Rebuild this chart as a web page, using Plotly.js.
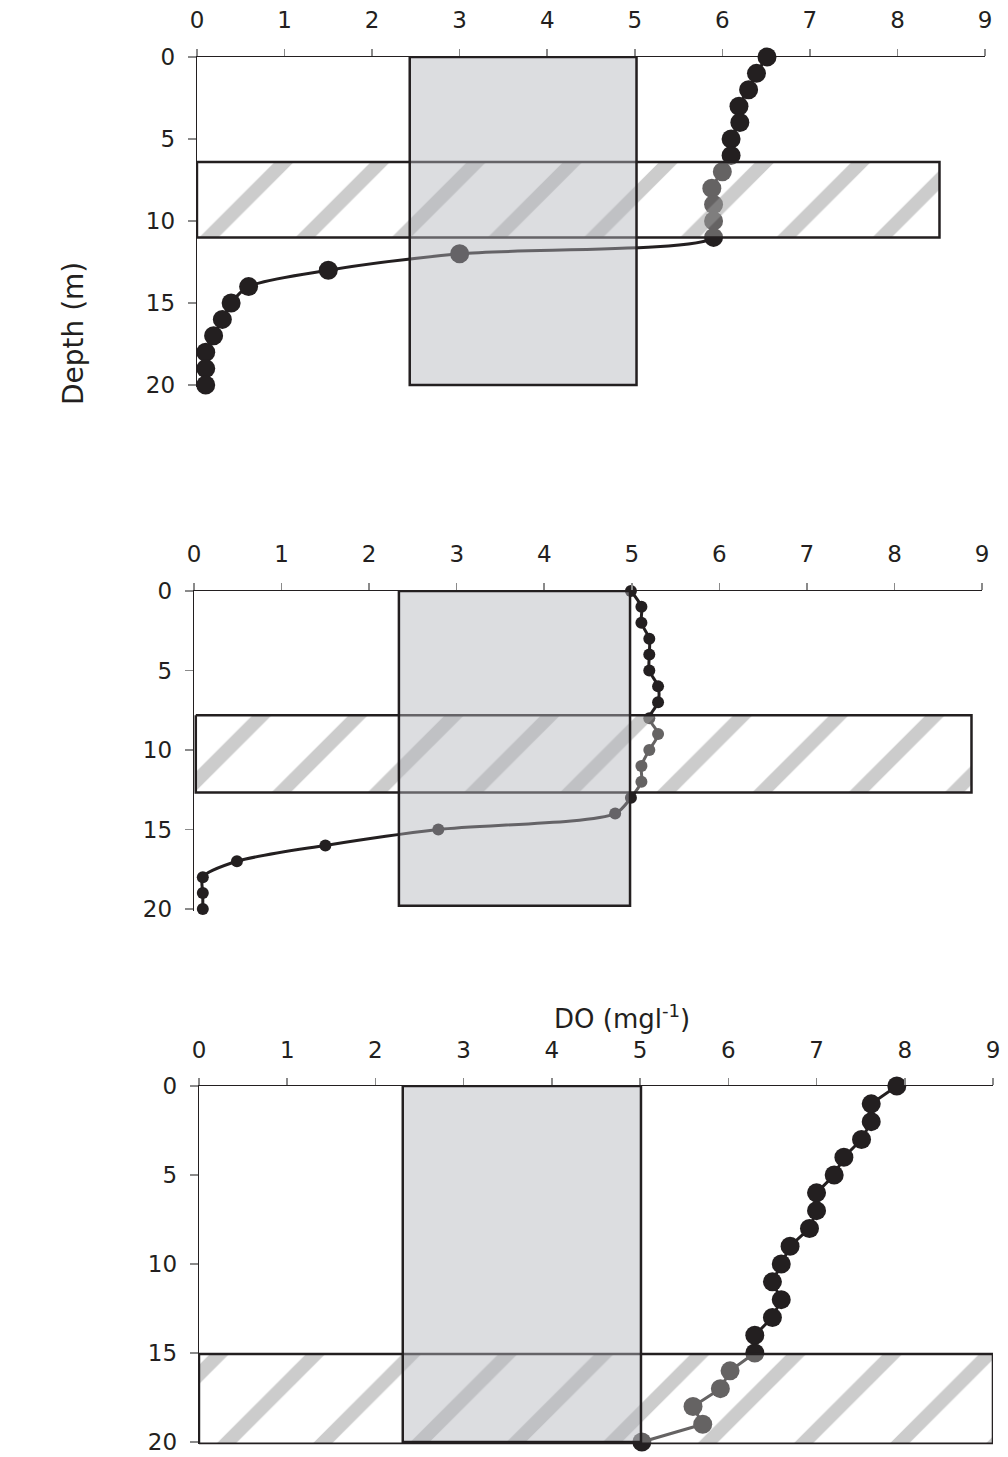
<!DOCTYPE html>
<html>
<head>
<meta charset="utf-8">
<script src="https://cdn.plot.ly/plotly-3.0.1.min.js"></script>
<style>html,body{margin:0;padding:0;background:#fff;}#chart{width:1008px;height:1457px;}</style>
</head>
<body>
<div id="chart"></div>
<script>
// Depths (m)
const depth = [0,1,2,3,4,5,6,7,8,9,10,11,12,13,14,15,16,17,18,19,20];
// Dissolved oxygen profiles (mg/l)
const do1 = [6.51,6.39,6.30,6.19,6.20,6.10,6.10,6.00,5.88,5.90,5.90,5.90,3.00,1.50,0.59,0.39,0.29,0.19,0.10,0.10,0.10];
const do2 = [4.99,5.11,5.11,5.20,5.20,5.20,5.30,5.30,5.20,5.30,5.20,5.11,5.11,4.99,4.81,2.79,1.50,0.49,0.10,0.10,0.10];
const do3 = [7.91,7.62,7.62,7.51,7.31,7.20,7.00,7.00,6.92,6.70,6.60,6.50,6.60,6.50,6.30,6.30,6.02,5.91,5.60,5.71,5.02];
// Gray DO range boxes [xmin, xmax, depthTop, depthBottom]
const box1 = [2.43, 5.02, 0, 20];
const box2 = [2.34, 4.98, 0, 19.8];
const box3 = [2.31, 5.01, 0, 20];
// Hatched depth bands [xmin, xmax, depthTop, depthBottom]
const band1 = [0, 8.48, 6.4, 11.0];
const band2 = [0.02, 8.88, 7.82, 12.68];
const band3 = [0, 9.0, 15.05, 20.1];
// Tick labels
const xTicks = [0,1,2,3,4,5,6,7,8,9];
const yTicks = [0,5,10,15,20];

const ink = '#231f20';
const FONT = 'DejaVu Sans, Arial, sans-serif';

function rectXY(r){
  return {x:[r[0],r[1],r[1],r[0],r[0]], y:[r[2],r[2],r[3],r[3],r[2]]};
}

function panel(n, doVals, box, band, msize, shape){
  const xa = n===1 ? 'x' : 'x'+n;
  const ya = n===1 ? 'y' : 'y'+n;
  const b = rectXY(band), g = rectXY(box);
  return [
    {type:'scatter', mode:'lines+markers', x:doVals, y:depth, xaxis:xa, yaxis:ya,
     line:{color:ink, width:3, shape:shape, smoothing:0.8},
     marker:{color:ink, size:msize}, cliponaxis:false, hoverinfo:'skip'},
    {type:'scatter', mode:'lines', x:b.x, y:b.y, xaxis:xa, yaxis:ya, fill:'toself',
     fillcolor:'rgba(255,255,255,0.3)',
     fillpattern:{shape:'/', size:68, solidity:0.2, fgcolor:'#999999', fgopacity:0.5, bgcolor:'rgba(255,255,255,0.3)'},
     line:{color:ink, width:2.5}, hoverinfo:'skip'},
    {type:'scatter', mode:'lines', x:g.x, y:g.y, xaxis:xa, yaxis:ya, fill:'toself',
     fillcolor:'rgba(179,180,188,0.46)', line:{color:ink, width:2.5}, hoverinfo:'skip'}
  ];
}

const traces = [].concat(
  panel(1, do1, box1, band1, 19, 'spline'),
  panel(2, do2, box2, band2, 12, 'spline'),
  panel(3, do3, box3, band3, 19, 'linear')
);

function xax(domain, anchor){
  return {domain:domain, anchor:anchor, side:'top', range:[0,9], tickvals:xTicks, ticktext:xTicks.map(String),
    showline:true, linecolor:ink, linewidth:1.3, ticks:'outside', ticklen:7, tickwidth:1.5, tickcolor:'#8a8a8a',
    showgrid:false, zeroline:false, ticklabelstandoff:11, ticklabeloverflow:'allow',
    tickfont:{family:FONT, size:23, color:ink}, fixedrange:true};
}
function yax(domain, anchor){
  return {domain:domain, anchor:anchor, range:[20.12,0], tickvals:yTicks, ticktext:yTicks.map(String),
    showline:true, linecolor:ink, linewidth:1.3, ticks:'outside', ticklen:8, tickwidth:1.5, tickcolor:'#8a8a8a',
    showgrid:false, zeroline:false, ticklabelstandoff:8, ticklabeloverflow:'allow',
    tickfont:{family:FONT, size:23, color:ink}, fixedrange:true};
}

const layout = {
  width:1008, height:1457, autosize:false, showlegend:false,
  margin:{l:0, r:0, t:0, b:0}, paper_bgcolor:'#fff', plot_bgcolor:'rgba(0,0,0,0)',
  xaxis: xax([0.1954,0.9772],'y'),
  yaxis: yax([0.7344,0.9609],'x'),
  xaxis2: xax([0.1925,0.9742],'y2'),
  yaxis2: yax([0.3748,0.5944],'x2'),
  xaxis3: xax([0.1974,0.9851],'y3'),
  yaxis3: yax([0.0088,0.2546],'x3'),
  annotations:[
    {text:'Depth (m)', xref:'paper', yref:'paper', x:0.0724, y:0.7714, textangle:-90,
     showarrow:false, xanchor:'center', yanchor:'middle', font:{family:FONT, size:28, color:ink}},
    {text:'DO (mgl<sup>-1</sup>)', xref:'paper', yref:'paper', x:0.617, y:0.302,
     showarrow:false, xanchor:'center', yanchor:'middle', font:{family:FONT, size:26, color:ink}}
  ]
};

Plotly.newPlot('chart', traces, layout, {staticPlot:true, displayModeBar:false});
</script>
</body>
</html>
